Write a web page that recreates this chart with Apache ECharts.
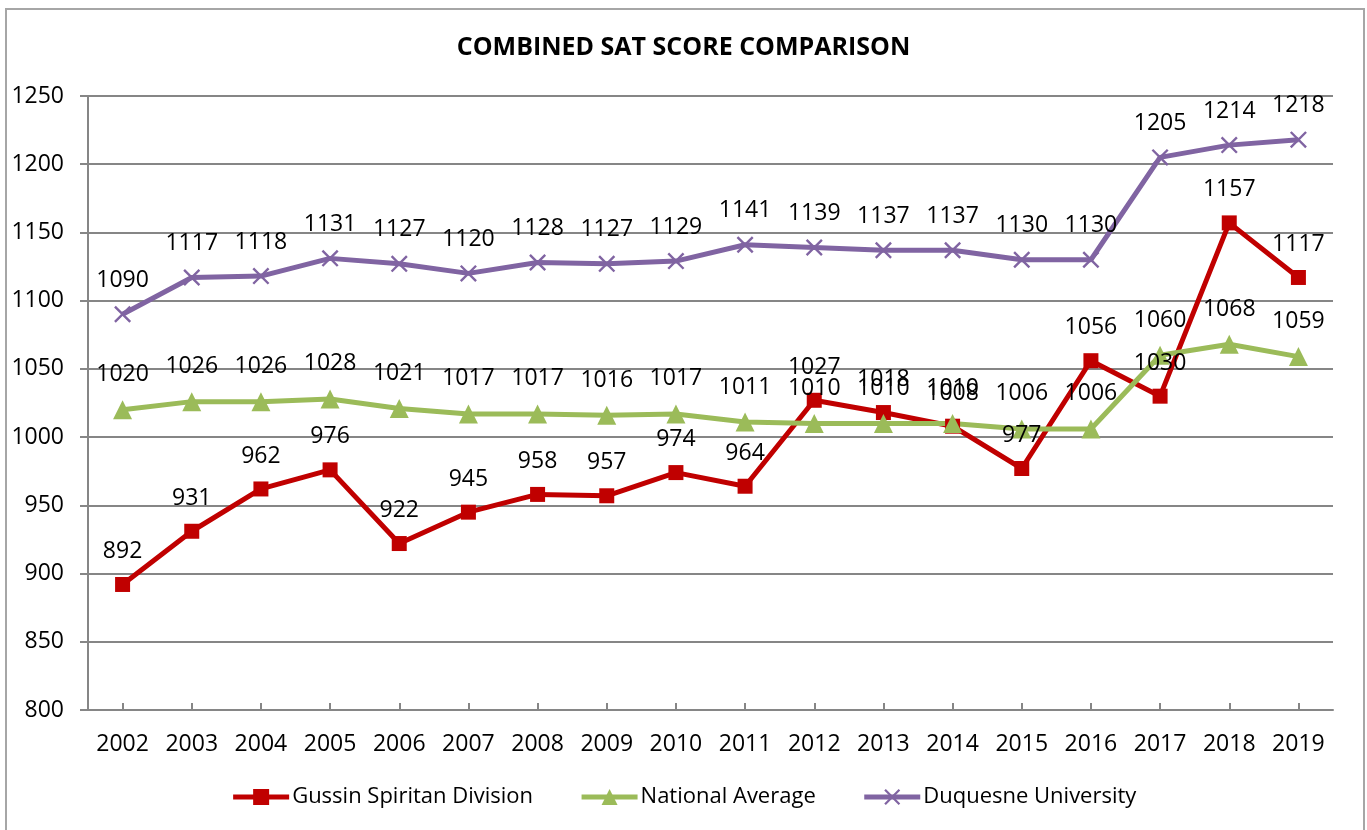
<!DOCTYPE html>
<html>
<head>
<meta charset="utf-8">
<script src="https://cdn.jsdelivr.net/npm/echarts@6/dist/echarts.min.js"></script>
<style>
	html, body { margin: 0; padding: 0; background: #fff; }
	#frame { position: absolute; left: 5px; top: 8px; width: 1360px; height: 830px; border: 2px solid #a6a6a6; box-sizing: border-box; }
	#chart { position: absolute; left: 0; top: 0; width: 1367px; height: 830px; }
</style>
</head>
<body>
<div id="frame"></div>
<div id="chart"></div>
<script>
var years = ['2002', '2003', '2004', '2005', '2006', '2007', '2008', '2009', '2010', '2011', '2012', '2013', '2014', '2015', '2016', '2017', '2018', '2019']
var gussin = [892, 931, 962, 976, 922, 945, 958, 957, 974, 964, 1027, 1018, 1008, 977, 1056, 1030, 1157, 1117]
var national = [1020, 1026, 1026, 1028, 1021, 1017, 1017, 1016, 1017, 1011, 1010, 1010, 1010, 1006, 1006, 1060, 1068, 1059]
var duquesne = [1090, 1117, 1118, 1131, 1127, 1120, 1128, 1127, 1129, 1141, 1139, 1137, 1137, 1130, 1130, 1205, 1214, 1218]

var font = 'Open Sans'
var crossPath = 'path://M0,1L1,0L10,9L9,10Z M9,0L10,1L1,10L0,9Z'

function makeSeries(name, data, color, symbol, size) {
	return {
		name: name,
		type: 'line',
		data: data,
		symbol: symbol,
		symbolSize: size,
		showAllSymbol: true,
		lineStyle: { color: color, width: 5 },
		itemStyle: { color: color },
		label: {
			show: true,
			position: 'top',
			distance: 14,
			color: '#000',
			fontFamily: font,
			fontSize: 23
		}
	}
}

var myChart = echarts.init(document.getElementById('chart'))
var option = {
	animation: false,
	textStyle: { fontFamily: font },
	title: {
		text: 'COMBINED SAT SCORE COMPARISON',
		left: 'center',
		top: 30,
		textStyle: { fontFamily: font, fontSize: 25, fontWeight: 'bold', color: '#000' }
	},
	grid: { left: 88, right: 34, top: 96, bottom: 120 },
	legend: {
		bottom: 17,
		left: 'center',
		itemWidth: 56,
		itemHeight: 20,
		itemGap: 46,
		lineStyle: { width: 5 },
		textStyle: { fontFamily: font, fontSize: 22, color: '#000', padding: [0, 0, 0, -2] },
		data: ['Gussin Spiritan Division', 'National Average', 'Duquesne University']
	},
	xAxis: {
		type: 'category',
		data: years,
		boundaryGap: true,
		axisLine: { lineStyle: { color: '#868686', width: 2 } },
		axisTick: { show: true, inside: true, alignWithLabel: true, length: 7, lineStyle: { color: '#868686', width: 2 } },
		axisLabel: { color: '#000', fontFamily: font, fontSize: 23, margin: 23 }
	},
	yAxis: {
		type: 'value',
		min: 800,
		max: 1250,
		interval: 50,
		axisLine: { show: true, lineStyle: { color: '#868686', width: 2 } },
		axisTick: { show: true, length: 8, lineStyle: { color: '#868686', width: 2 } },
		splitLine: { lineStyle: { color: '#868686', width: 2 } },
		axisLabel: { color: '#000', fontFamily: font, fontSize: 23, margin: 24, formatter: function(v) { return String(v) } }
	},
	series: [
		makeSeries('Gussin Spiritan Division', gussin, '#C00000', 'rect', 15),
		makeSeries('National Average', national, '#9BBB59', 'triangle', 19),
		makeSeries('Duquesne University', duquesne, '#8064A2', crossPath, 17)
	]
}
myChart.setOption(option)
</script>
</body>
</html>
